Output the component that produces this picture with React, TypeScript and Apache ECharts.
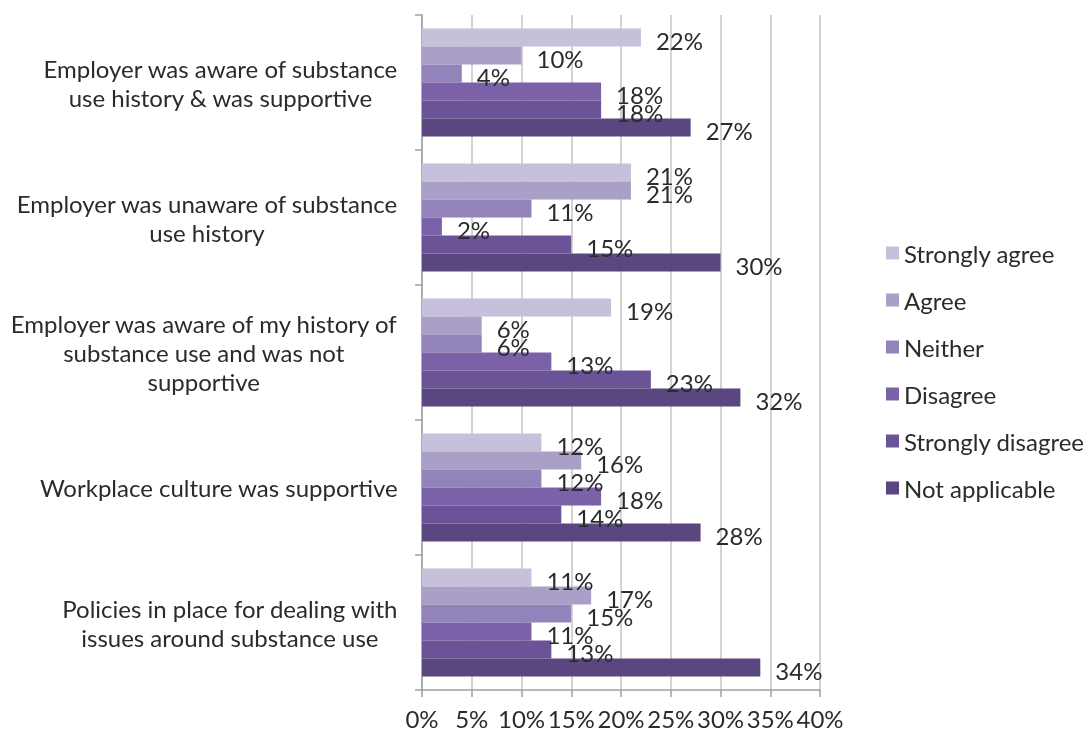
import React, { useEffect, useRef } from "react";
import * as echarts from "echarts";

const categories = [
  "Employer was aware of substance\nuse history & was supportive",
  "Employer was unaware of substance\nuse history",
  "Employer was aware of my history of\nsubstance use and was not\nsupportive",
  "Workplace culture was supportive",
  "Policies in place for dealing with\nissues around substance use",
];

const seriesNames = [
  "Strongly agree",
  "Agree",
  "Neither",
  "Disagree",
  "Strongly disagree",
  "Not applicable",
];

const stronglyAgree = [22, 21, 19, 12, 11];
const agree = [10, 21, 6, 16, 17];
const neither = [4, 11, 6, 12, 15];
const disagree = [18, 2, 13, 18, 11];
const stronglyDisagree = [18, 15, 23, 14, 13];
const notApplicable = [27, 30, 32, 28, 34];

const seriesData = [stronglyAgree, agree, neither, disagree, stronglyDisagree, notApplicable];
const colors = ["#c6c0da", "#aa9fc6", "#9283ba", "#7b62a8", "#6b5398", "#5b477f"];

const FONT = "Lato, 'Open Sans', sans-serif";
const FS = 24;
const TXT = "#2b2b2b";

export default function App() {
  const ref = useRef<HTMLDivElement>(null);
  useEffect(() => {
    if (!ref.current) return;
    const chart = echarts.init(ref.current, null, { renderer: "svg" });
    chart.setOption({
      animation: false,
      textStyle: { fontFamily: FONT },
      grid: { left: 422, right: 268, top: 15, bottom: 46, containLabel: false },
      legend: {
        orient: "vertical",
        left: 881,
        top: 236,
        itemWidth: 13,
        itemHeight: 13,
        itemGap: 23,
        icon: "rect",
        data: seriesNames,
        textStyle: { fontSize: FS, color: TXT, fontFamily: FONT },
      },
      xAxis: {
        type: "value",
        min: 0,
        max: 40,
        interval: 5,
        axisLabel: {
          formatter: "{value}%",
          fontSize: FS,
          color: TXT,
          margin: 16,
          fontFamily: FONT,
        },
        axisLine: { show: true, lineStyle: { color: "#a0a0a0", width: 1.5 } },
        axisTick: { show: true, length: 7, lineStyle: { color: "#a0a0a0", width: 1.5 } },
        splitLine: { show: true, lineStyle: { color: "#c4c4c4", width: 1.5 } },
      },
      yAxis: {
        type: "category",
        inverse: true,
        data: categories,
        axisLabel: {
          fontSize: FS,
          color: TXT,
          margin: 24,
          lineHeight: 29,
          align: "right",
          fontFamily: FONT,
          formatter: (v: string) =>
            v
              .split("\n")
              .map((l) => `{c|${l}}`)
              .join("\n"),
          rich: {
            c: {
              align: "center",
              fontSize: FS,
              lineHeight: 29,
              color: TXT,
              fontFamily: FONT,
            },
          },
        },
        axisLine: { show: true, lineStyle: { color: "#a0a0a0", width: 1.5 } },
        axisTick: { show: true, length: 7, lineStyle: { color: "#a0a0a0", width: 1.5 } },
      },
      series: seriesNames.map((name, i) => ({
        name,
        type: "bar",
        data: seriesData[i],
        barGap: "0%",
        barCategoryGap: "20%",
        itemStyle: { color: colors[i] },
        label: {
          show: true,
          position: "right",
          distance: 15,
          offset: [0, 3],
          formatter: "{c}%",
          fontSize: FS,
          color: TXT,
          fontFamily: FONT,
        },
      })),
    });
    return () => chart.dispose();
  }, []);
  return (
    <div
      ref={ref}
      style={{ position: "fixed", left: 0, top: 0, width: 1088, height: 736 }}
    />
  );
}
